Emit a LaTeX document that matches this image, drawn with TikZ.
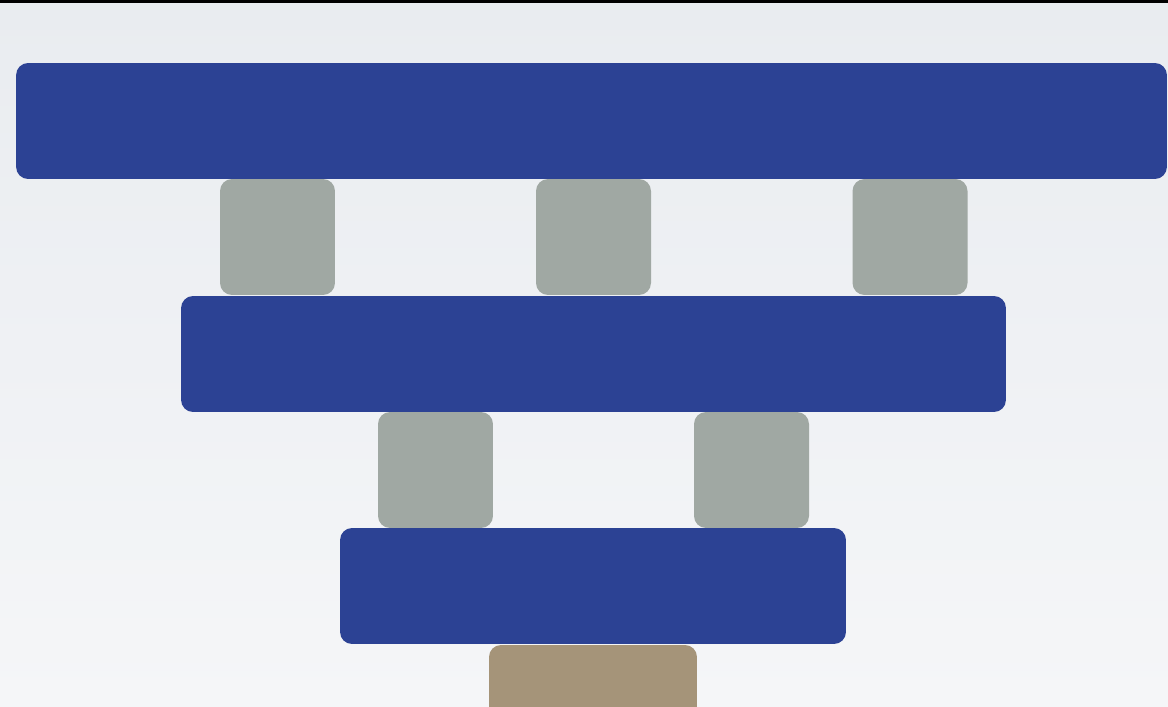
\documentclass[tikz,border=0pt]{standalone}
\usepackage{xcolor}
\definecolor{slab}{RGB}{44,66,148}
\definecolor{peg}{RGB}{160,168,163}
\definecolor{base}{RGB}{165,148,121}
\definecolor{bgtop}{RGB}{233,236,240}
\definecolor{bgbot}{RGB}{245,246,248}
\tikzset{
  block/.style={rectangle,rounded corners=0.24cm,inner sep=0pt,minimum height=2.32cm},
  slabbox/.style={block,fill=slab},
  pegbox/.style={block,fill=peg,minimum width=2.3cm},
  basebox/.style={block,fill=base,minimum width=4.16cm}
}
\begin{document}
\begin{tikzpicture}[x=0.02cm,y=-0.02cm]
\useasboundingbox (0,0) rectangle (1168,706);
\clip (0,0) rectangle (1168,706);
\shade[top color=bgtop,bottom color=bgbot] (0,0) rectangle (1168,706);
\fill[black] (0,0) rectangle (1168,3);
% top row
\node[slabbox,minimum width=23.02cm] (s1) at (591.5,121) {};
\node[pegbox] (p1) at (277.5,237) {};
\node[pegbox] (p2) at (593.5,237) {};
\node[pegbox] (p3) at (910,237) {};
% middle row
\node[slabbox,minimum width=16.5cm] (s2) at (593.5,354) {};
\node[pegbox] (p4) at (435.5,470) {};
\node[pegbox] (p5) at (751.5,470) {};
% bottom row
\node[slabbox,minimum width=10.12cm] (s3) at (593,586) {};
\node[basebox] (b1) at (593,703) {};
\end{tikzpicture}
\end{document}
